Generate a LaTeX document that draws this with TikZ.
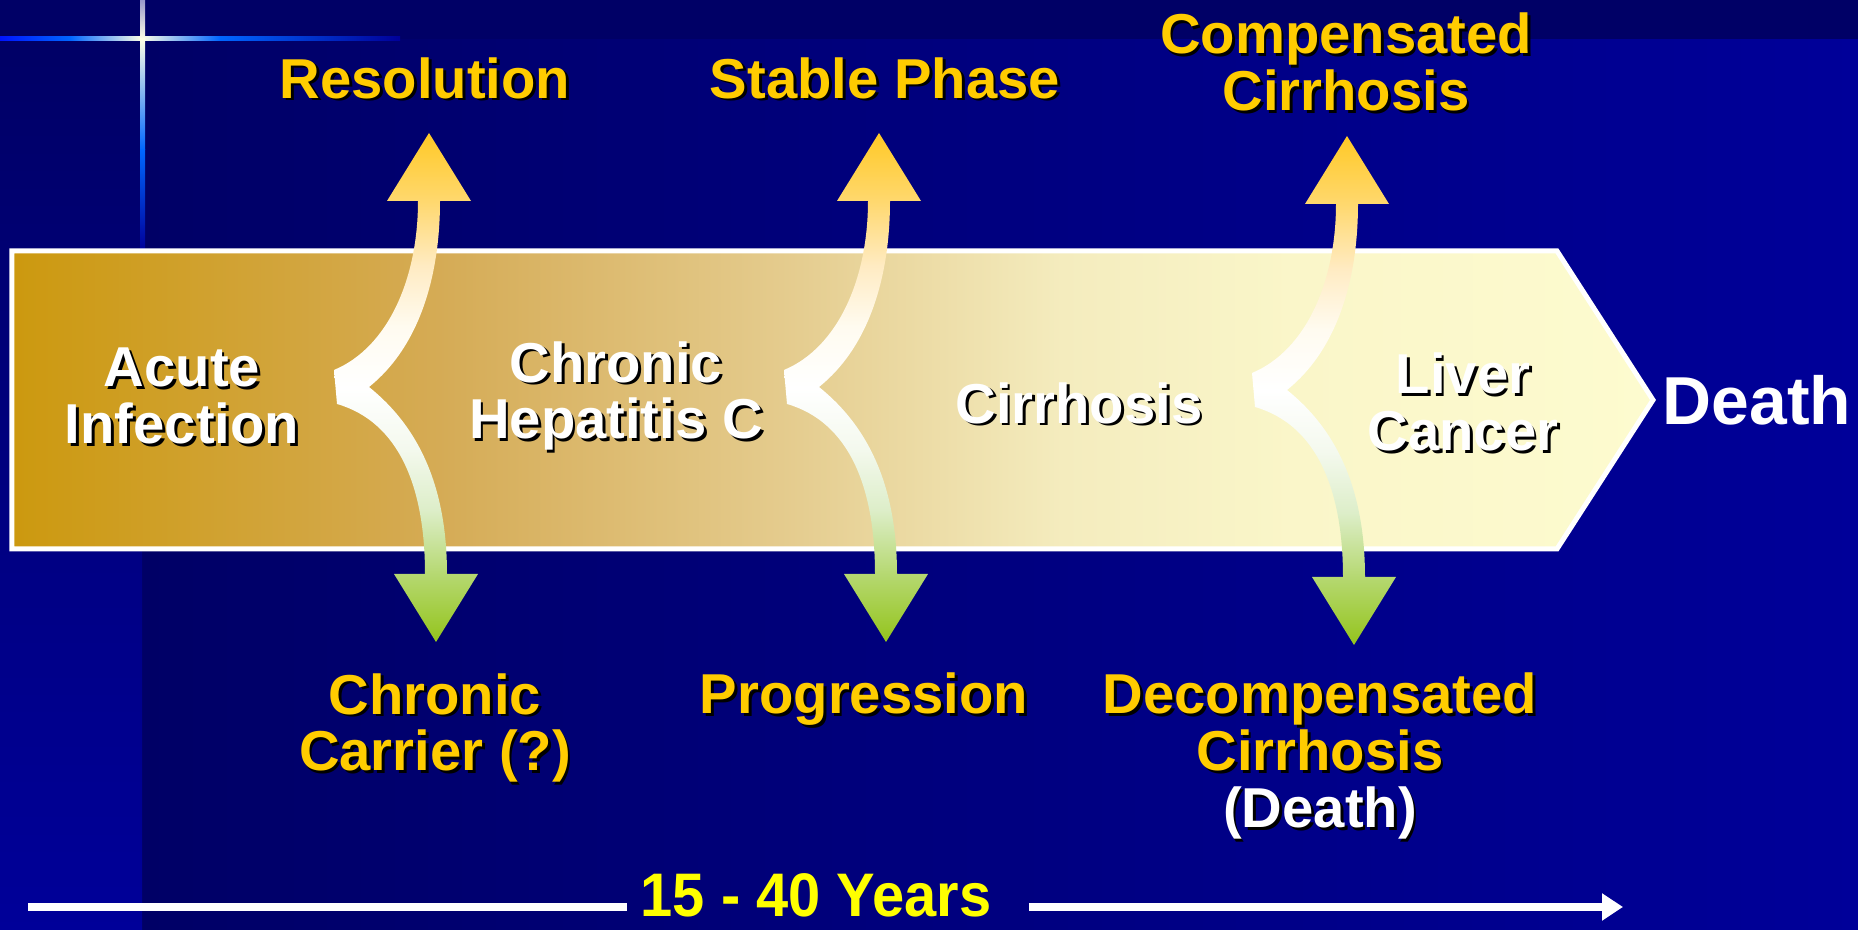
\documentclass[tikz,border=0pt]{standalone}
\usepackage{fontspec}
\setmainfont{Liberation Sans}
\usetikzlibrary{arrows.meta}

\definecolor{navybg}{HTML}{000066}
\definecolor{bluebg}{HTML}{000099}
\definecolor{labyel}{HTML}{FFCC00}
\definecolor{yrsyel}{HTML}{FFFF00}
\definecolor{glowblue}{HTML}{0066FF}
\definecolor{glowwhite}{HTML}{FFFFE6}
\definecolor{glowgray}{HTML}{9999CC}
% box colours
\definecolor{boxa}{HTML}{CC990F}
\definecolor{boxb}{HTML}{D5AB55}
\definecolor{boxc}{HTML}{E5CD90}
\definecolor{boxd}{HTML}{F4ECBE}
\definecolor{boxe}{HTML}{FAF6C9}
\definecolor{boxf}{HTML}{FDFBCF}
% fork colours
\definecolor{frkgrn}{HTML}{94C41C}
\definecolor{frkgmid}{HTML}{B5D870}
\definecolor{frkglt}{HTML}{DDEEC9}
\definecolor{frkgvlt}{HTML}{F4F9EE}
\definecolor{frkyvlt}{HTML}{FFFBF0}
\definecolor{frkylt}{HTML}{FFEBC2}
\definecolor{frkymid}{HTML}{FFD86E}
\definecolor{frkyel}{HTML}{FFC926}

\pgfdeclarehorizontalshading{boxfill}{100bp}{color(0bp)=(boxa); color(25bp)=(boxa);
  color(38bp)=(boxb); color(49bp)=(boxc); color(57bp)=(boxd); color(64bp)=(boxe);
  color(75bp)=(boxf); color(100bp)=(boxf)}
\pgfdeclareverticalshading{forkfill}{100bp}{color(0bp)=(frkgrn); color(25bp)=(frkgrn);
  color(31.6bp)=(frkgmid); color(38bp)=(frkglt); color(44bp)=(frkgvlt); color(50bp)=(white);
  color(56bp)=(frkyvlt); color(62bp)=(frkylt); color(68.3bp)=(frkymid); color(75bp)=(frkyel);
  color(100bp)=(frkyel)}

\tikzset{
  lbl/.style={font=\bfseries\fontsize{16}{16.2}\selectfont, align=center, text=labyel, inner sep=0pt},
  boxlbl/.style={lbl, text=white},
  shadowcopy/.style={text=black, xshift=0.8pt, yshift=-0.8pt},
  yrsline/.style={draw=white, line width=0.08cm},
}
\newcommand{\wht}{\color{white}}
\newcommand{\shadowlabel}[4][]{%
  \node[lbl, #1, shadowcopy, execute at begin node={\let\wht\relax}] at (#3) {#4};
  \node[lbl, #1] (#2) at (#3) {#4};}

\begin{document}
\begin{tikzpicture}[x=1cm, y=1cm]

      \useasboundingbox (0,0) rectangle (18.58,9.30);

      % Fundo
      \fill[navybg] (0,8.90) rectangle (18.58,9.30);
      \shade[left color=navybg, right color=bluebg] (1.42,0) rectangle (18.58,8.90);
      \shade[top color=navybg, bottom color=bluebg] (0,0) rectangle (1.42,8.90);

      % Linhas de brilho (cruz)
      \shade[left color=blue!80!glowblue, right color=glowblue] (0,8.89) rectangle (0.70,8.93);
      \shade[left color=glowblue, right color=glowwhite] (0.70,8.89) rectangle (1.42,8.93);
      \shade[left color=glowwhite, right color=glowblue] (1.42,8.89) rectangle (2.20,8.93);
      \shade[left color=glowblue, right color=bluebg] (2.20,8.89) rectangle (4.00,8.93);
      \shade[top color=glowgray, bottom color=glowwhite] (1.40,9.30) rectangle (1.45,8.91);
      \shade[top color=glowwhite, bottom color=glowblue] (1.40,8.91) rectangle (1.45,7.80);
      \shade[top color=glowblue, bottom color=bluebg] (1.40,7.80) rectangle (1.45,6.80);

      % Seta principal (bloco)
      \shade[shading=boxfill] (0.12,6.79) -- (15.57,6.79) -- (16.53,5.30)
            -- (15.57,3.81) -- (0.12,3.81) -- cycle;
      \draw[white, line width=0.05cm] (0.12,6.79) -- (15.57,6.79) -- (16.53,5.30)
            -- (15.57,3.81) -- (0.12,3.81) -- cycle;

      % Textos dentro do bloco
      \shadowlabel[boxlbl]{acute}{1.82,5.34}{Acute\\Infection}
      \shadowlabel[boxlbl]{chronic}{6.16,5.34}{Chronic\\Hepatitis C}
      \shadowlabel[boxlbl]{cirrh}{10.79,5.27}{Cirrhosis}
      \shadowlabel[boxlbl]{cancer}{14.63,5.28}{Liver\\Cancer}

      % Bifurcacoes
      \foreach \fx/\fy in {4.29/5.43, 8.79/5.43, 13.47/5.40}
        \shade[shading=forkfill, shift={(\fx,\fy)}]
          (-0.95,0.17) .. controls (-0.40,0.40) and (-0.11,1.10) .. (-0.11,1.86)
          -- (-0.42,1.86) -- (0,2.54) -- (0.42,1.86) -- (0.11,1.86)
          .. controls (0.11,1.10) and (-0.10,0.40) .. (-0.60,0)
          .. controls (-0.10,-0.40) and (0.18,-1.00) .. (0.18,-1.87)
          -- (0.49,-1.87) -- (0.07,-2.55) -- (-0.35,-1.87) -- (-0.04,-1.87)
          .. controls (-0.04,-1.00) and (-0.30,-0.35) .. (-0.92,-0.17)
          -- cycle;

      % Desfechos (acima)
      \shadowlabel{resol}{4.25,8.52}{Resolution}
      \shadowlabel{stable}{8.85,8.52}{Stable Phase}
      \shadowlabel{compens}{13.46,8.68}{Compensated\\Cirrhosis}

      % Desfechos (abaixo)
      \shadowlabel{carrier}{4.35,2.02}{Chronic\\Carrier (?)}
      \shadowlabel{progr}{8.64,2.31}{Progression}
      \shadowlabel{decomp}{13.20,1.74}{Decompensated\\Cirrhosis\\{\wht (Death)}}

      % Morte
      \node[lbl, text=white, font=\bfseries\fontsize{19.3}{20}\selectfont] (death) at (17.57,5.30) {Death};

      % Linha do tempo
      \coordinate (ystart) at (0.28,0.23);
      \coordinate (yend) at (16.23,0.23);
      \node[font=\bfseries\fontsize{17.5}{18}\selectfont, text=yrsyel, inner xsep=0.13cm, inner ysep=0pt] (years) at (8.16,0.35)
            {\scalebox{0.94}[1]{15 - 40 Years}};
      \draw[yrsline] (ystart) -- (ystart -| years.west);
      \draw[yrsline, -{Triangle[length=0.21cm, width=0.26cm]}] ([xshift=0.24cm]years.east |- yend) -- (yend);

    \end{tikzpicture}
\end{document}
